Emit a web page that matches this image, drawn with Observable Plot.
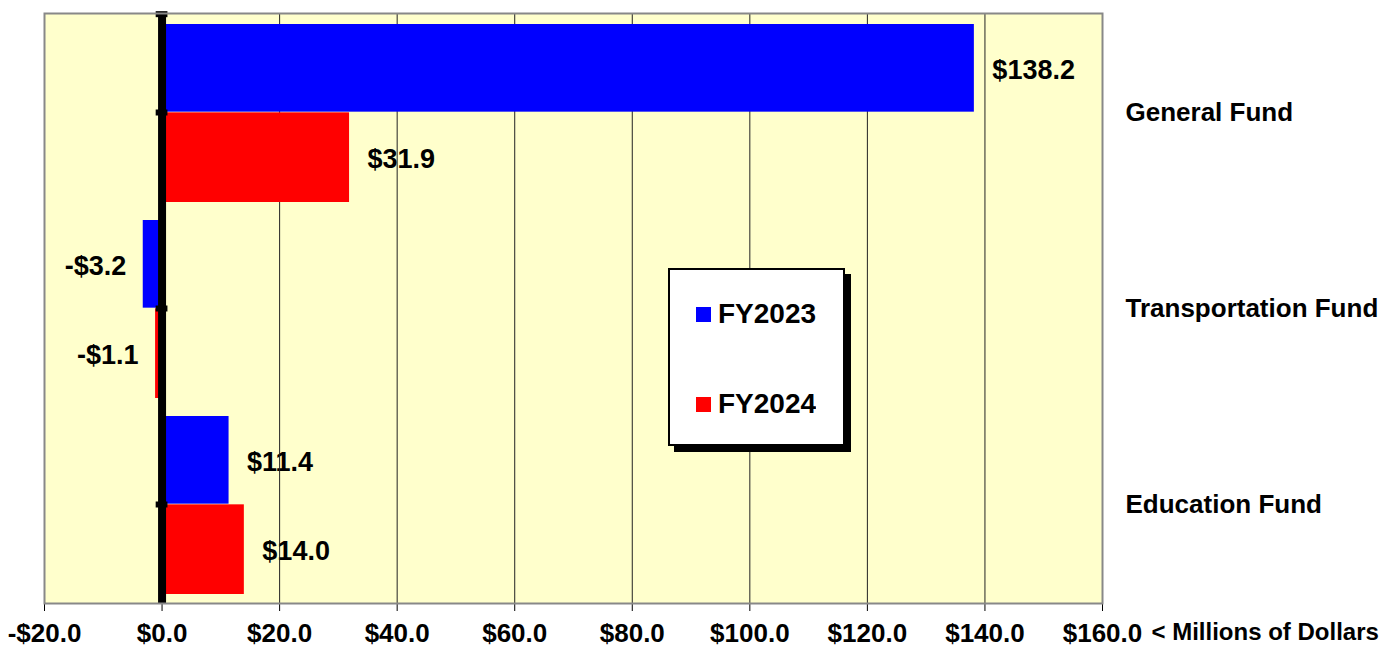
<!DOCTYPE html>
<html><head><meta charset="utf-8">
<script src="https://cdn.jsdelivr.net/npm/d3@7"></script>
<script src="https://cdn.jsdelivr.net/npm/@observablehq/plot@0.6"></script>
<style>
html,body{margin:0;padding:0;background:#fff;}
#wrap{position:relative;width:1398px;height:648px;font-family:"Liberation Sans",Arial,sans-serif;}
#wrap > svg{position:absolute;left:0;top:0;}
#legend{position:absolute;left:668px;top:268px;width:173px;height:174px;background:#fff;border:2px solid #000;box-shadow:6px 6px 0 #000;box-sizing:content-box;}
#legend > div{margin:0 !important;padding:29px 0 0 26px !important;columns:auto !important;font-family:"Liberation Sans",Arial,sans-serif !important;font-size:28px !important;font-weight:bold !important;color:#000 !important;}
#legend .lg-swatch{display:flex !important;align-items:center !important;height:30px !important;margin:0 0 60px 0 !important;padding:0 !important;}
#legend .lg-swatch svg{margin-right:7px !important;flex:none;}
</style></head><body><div id="wrap"></div>
<script>
const funds = ["General Fund", "Transportation Fund", "Education Fund"];
const years = ["FY2023", "FY2024"];
const fy2023 = [138.2, -3.2, 11.4];
const fy2024 = [31.9, -1.1, 14.0];
const xTicks = [-20, 0, 20, 40, 60, 80, 100, 120, 140, 160];
const colors = ["#0000ff", "#ff0000"];
const unitLabel = "< Millions of Dollars";

const data = funds.flatMap((f, i) => [
  {fund: f, year: years[0], value: fy2023[i]},
  {fund: f, year: years[1], value: fy2024[i]}
]);
const fmt = v => (v < 0 ? "-" : "") + "$" + Math.abs(v).toFixed(1);

const W = 1398, H = 648, mT = 13, mB = 45, mL = 44, mR = 296;
const step = (H - mT - mB) / funds.length;
const insets = {
  FY2023: {insetTop: 10, insetBottom: step / 2},
  FY2024: {insetTop: step / 2, insetBottom: 8}
};
const labelDy = {FY2023: -42, FY2024: 47};

const bars = years.map(yr => Plot.barX(data.filter(d => d.year === yr), {
  x: "value", y: "fund", fill: "year", ...insets[yr]
}));
const labels = [];
for (const yr of years) {
  for (const pos of [true, false]) {
    labels.push(Plot.text(data.filter(d => d.year === yr && (d.value >= 0) === pos), {
      x: "value", y: "fund", text: d => fmt(d.value),
      textAnchor: pos ? "start" : "end", dx: pos ? 18 : -17, dy: labelDy[yr],
      fontSize: 27, fontWeight: "bold", fill: "#000"
    }));
  }
}

const chart = Plot.plot({
  width: W, height: H,
  marginTop: mT, marginBottom: mB, marginLeft: mL, marginRight: mR,
  style: {fontFamily: "'Liberation Sans', Arial, sans-serif", fontSize: "26px", fontWeight: "bold", color: "#000", background: "transparent", overflow: "visible"},
  x: {domain: [-20, 160], ticks: xTicks, tickFormat: fmt, tickSize: 8, tickPadding: 12, label: null},
  y: {domain: funds, padding: 0, axis: "right", tickSize: 0, tickPadding: 23, label: null},
  color: {domain: years, range: colors},
  marks: [
    Plot.frame({fill: "#ffffcc", stroke: "none"}),
    ...labels,
    Plot.ruleX(xTicks.filter(t => t > -20 && t < 160), {stroke: "#222", strokeWidth: 1}),
    ...bars,
    Plot.ruleX([0], {stroke: "#000", strokeWidth: 8}),
    Plot.ruleY(funds, {y: d => d, x1: -1, x2: 1, stroke: "#000", strokeWidth: 6}),
    Plot.ruleY([funds[0]], {y: d => d, x1: -1, x2: 1, dy: -step / 2, stroke: "#000", strokeWidth: 6}),
    Plot.frame({stroke: "#888", strokeWidth: 2}),
    Plot.text([unitLabel], {text: d => d, frameAnchor: "bottom-right", dx: 49, dy: 36, textAnchor: "start", fontSize: 24, fontWeight: "bold", fill: "#000"})
  ]
});
const wrap = document.getElementById("wrap");
wrap.appendChild(chart);

const legendBox = document.createElement("div");
legendBox.id = "legend";
legendBox.appendChild(Plot.legend({
  color: {domain: years, range: colors},
  legend: "swatches", columns: 1, swatchSize: 15, className: "lg"
}));
wrap.appendChild(legendBox);
</script>
</body></html>
